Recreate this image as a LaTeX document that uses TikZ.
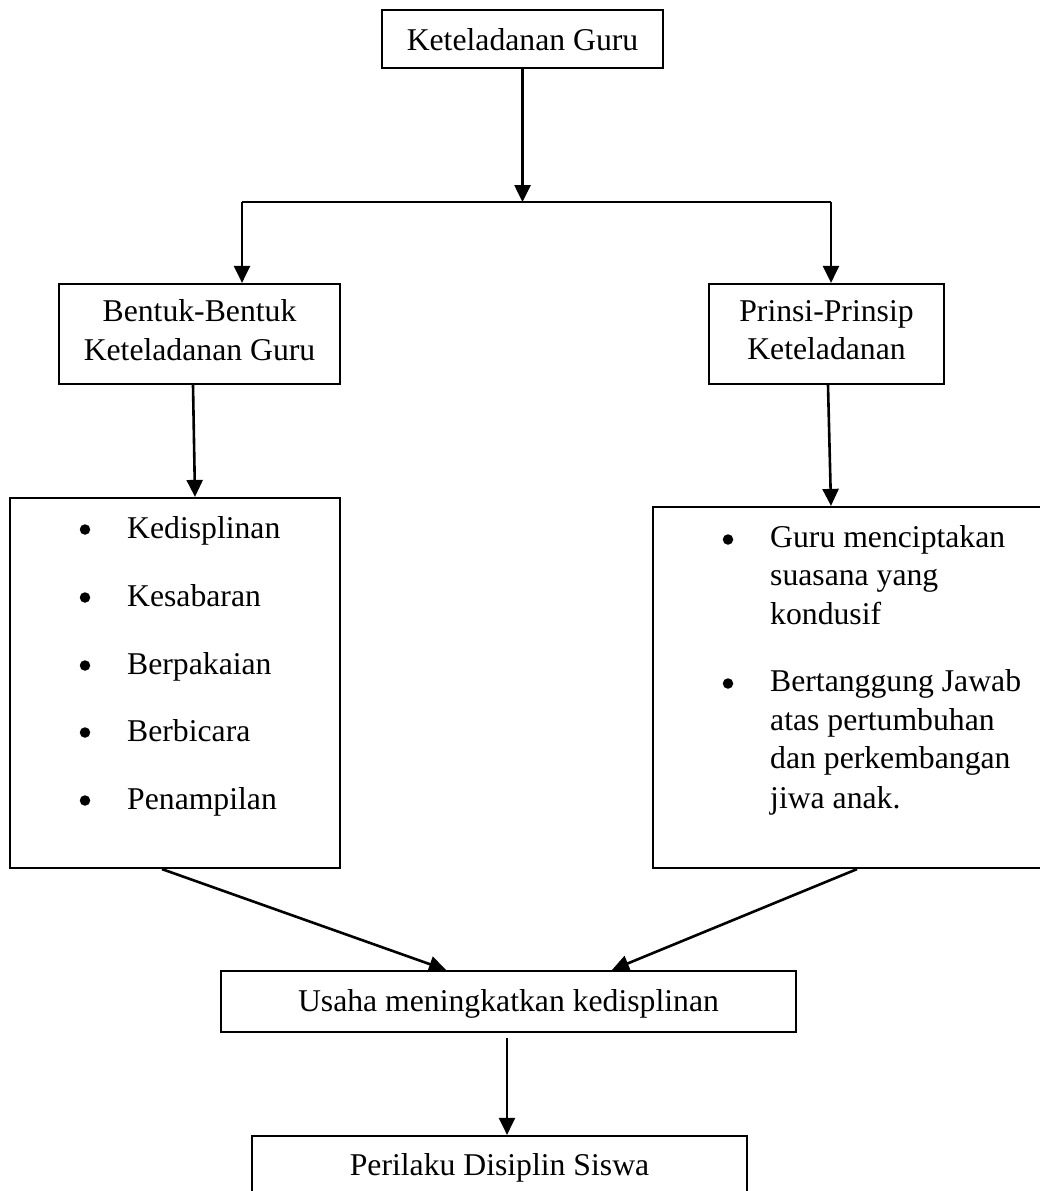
\documentclass[tikz,border=0pt]{standalone}
\usepackage{fontspec}
\setmainfont{Liberation Serif}
\usetikzlibrary{arrows.meta}
\begin{document}
\begin{tikzpicture}[x=1pt,y=-1pt,
  box/.style={draw,line width=2.2pt,inner sep=0pt,font=\fontsize{31.7}{38.5}\selectfont},
  txt/.style={inner sep=0pt,font=\fontsize{31.7}{38.5}\selectfont},
  dot/.style={circle,fill,inner sep=0pt,minimum size=10.5pt},
  arr/.style={line width=2.6pt,-{Triangle[length=17pt,width=16pt]}},
  ln/.style={line width=2.6pt}]
\useasboundingbox (0,0) rectangle (1039,1191);

% boxes
\node[box,minimum width=281pt,minimum height=58pt,text height=22pt,text depth=0pt] (top) at (522.5,39) {Keteladanan Guru};
\node[box,minimum width=281pt,minimum height=100pt,align=center] (b1) at (199.5,334) {Bentuk-Bentuk\\Keteladanan Guru\rule[-8pt]{0pt}{8pt}};
\node[box,minimum width=235pt,minimum height=100pt,align=center] (b2) at (826.5,334) {Prinsi-Prinsip\\Keteladanan\rule[-8pt]{0pt}{8pt}};
\node[box,minimum width=330pt,minimum height=370pt] (l1) at (175,683) {};
\node[box,minimum width=397pt,minimum height=361pt] (r1) at (851.5,687.5) {};
\node[box,minimum width=575pt,minimum height=61pt,text height=22pt,text depth=3pt] (us) at (508.5,1001.5) {Usaha meningkatkan kedisplinan};
\node[box,minimum width=495pt,minimum height=74pt,text height=22pt,text depth=18pt] (pd) at (499.5,1173) {Perilaku Disiplin Siswa};

% left list
\node[dot] (lb1) at (85,529.5) {};
\node[txt,anchor=base west] (lt1) at (127,538) {Kedisplinan};
\node[dot] (lb2) at (85,597.5) {};
\node[txt,anchor=base west] (lt2) at (127,606) {Kesabaran};
\node[dot] (lb3) at (85,665.5) {};
\node[txt,anchor=base west] (lt3) at (127,674) {Berpakaian};
\node[dot] (lb4) at (85,732.5) {};
\node[txt,anchor=base west] (lt4) at (127,741) {Berbicara};
\node[dot] (lb5) at (85,800.5) {};
\node[txt,anchor=base west] (lt5) at (127,809) {Penampilan};

% right list
\node[dot] (rb1) at (728,539.5) {};
\node[txt,anchor=base west] (rt1) at (770,547) {Guru menciptakan};
\node[txt,anchor=base west] (rt2) at (770,585.5) {suasana yang};
\node[txt,anchor=base west] (rt3) at (770,624) {kondusif};
\node[dot] (rb2) at (728,683.5) {};
\node[txt,anchor=base west] (rt4) at (770,691) {Bertanggung Jawab};
\node[txt,anchor=base west] (rt5) at (770,730) {atas pertumbuhan};
\node[txt,anchor=base west] (rt6) at (770,768) {dan perkembangan};
\node[txt,anchor=base west] (rt7) at (770,808) {jiwa anak.};

% connectors
\coordinate (jl) at (242,202);
\coordinate (jr) at (831,202);
\draw[arr] (top.south) -- (top.south |- jl);
\draw[ln] (jl) -- (jr);
\draw[arr] (jl) -- (jl |- b1.north);
\draw[arr] (jr) -- (jr |- b2.north);
\draw[arr] ([xshift=-6.5pt]b1.south) -- ([xshift=20pt]l1.north);
\draw[arr] ([xshift=1.5pt]b2.south) -- ([xshift=-20.5pt]r1.north);
\draw[arr] ([xshift=-13pt]l1.south) -- ([xshift=-62.5pt]us.north);
\draw[arr] ([xshift=5.5pt]r1.south) -- ([xshift=103.5pt]us.north);
\draw[arr] ([xshift=-1.5pt,yshift=-5pt]us.south) -- ([xshift=7.5pt]pd.north);
\end{tikzpicture}
\end{document}
